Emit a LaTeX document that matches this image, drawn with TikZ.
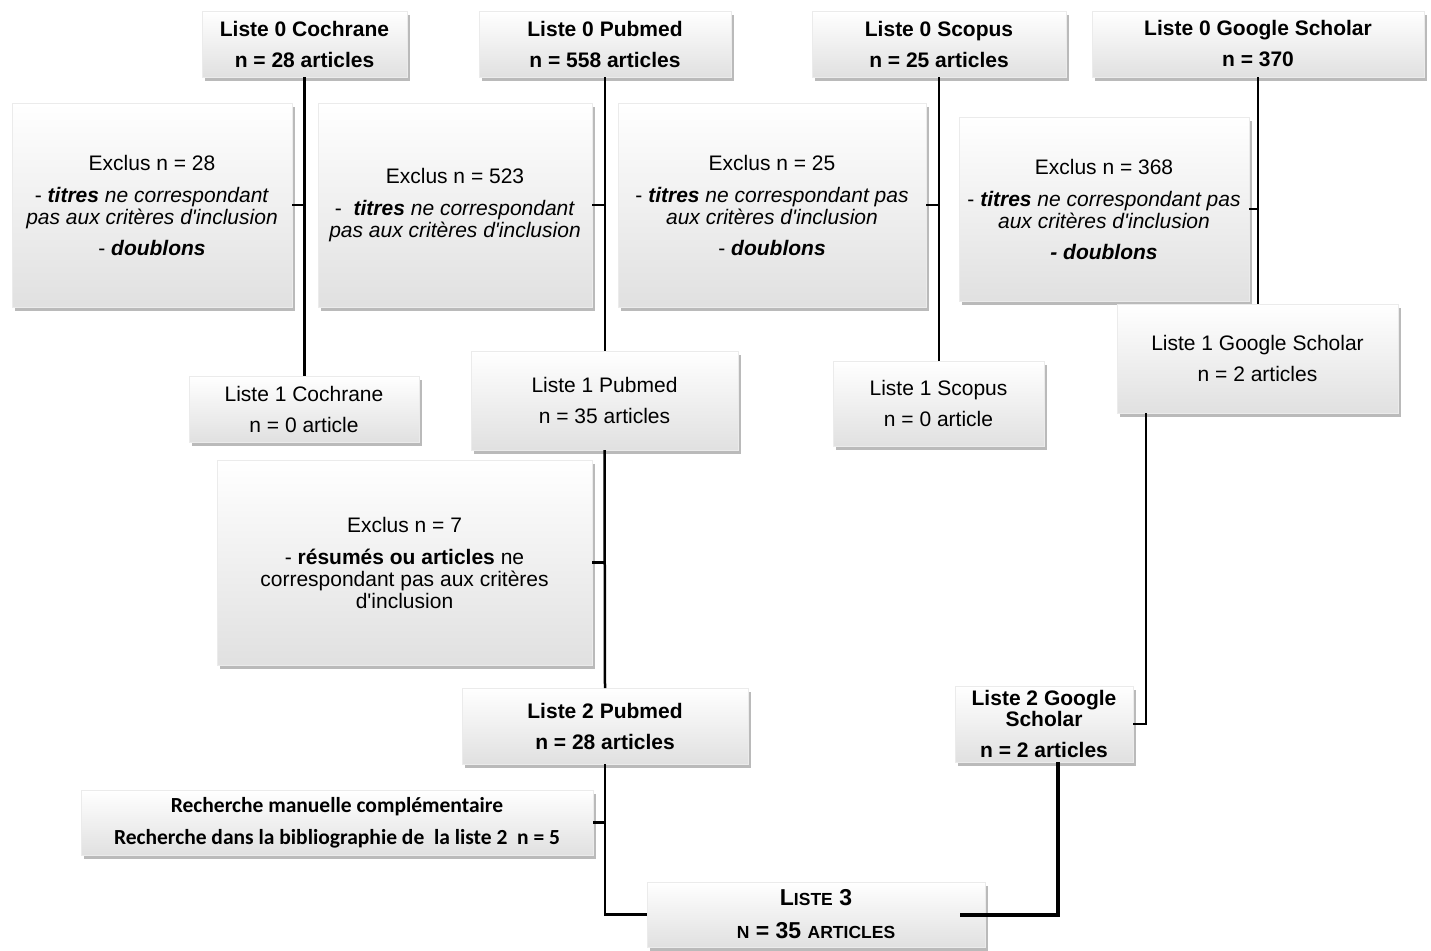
\documentclass[tikz,border=0pt]{standalone}
\usepackage{fontspec}
\setmainfont{Liberation Sans}[Ligatures=TeXOff]
\newfontfamily\calib{Carlito}[Ligatures=TeXOff]
\usetikzlibrary{shadows}
\newcommand\smc[1]{{\fontsize{17.5}{18}\selectfont #1}}
\tikzset{
 box/.style={rectangle, inner sep=0pt, outer sep=0pt, anchor=north west,
   top color=white, bottom color=black!12, draw=black!8, line width=0.5pt,
   drop shadow={shadow xshift=2.5pt, shadow yshift=-4pt, fill=black!60, opacity=0.45},
   align=center, text=black, font=\fontsize{21}{22}\selectfont},
 bbox/.style={box, font=\fontsize{21}{22}\selectfont\bfseries},
 link/.style={line width=2.5pt, draw=black},
 thicklink/.style={line width=4pt, draw=black},
}
\begin{document}
\begin{tikzpicture}[x=1pt,y=-1pt]
\useasboundingbox (0,0) rectangle (1431,950);
% top level
\node[bbox, minimum width=205pt, minimum height=66pt] (C0) at (202,11) {Liste 0 Cochrane\\[9pt]n = 28 articles};
\node[bbox, minimum width=252pt, minimum height=66pt] (P0) at (479,11) {Liste 0 Pubmed\\[9pt]n = 558 articles};
\node[bbox, minimum width=254pt, minimum height=66pt] (S0) at (812,11) {Liste 0 Scopus\\[9pt]n = 25 articles};
\node[bbox, minimum width=332pt, minimum height=66pt] (G0) at (1092,11) {Liste 0 Google Scholar\\[9pt]n = 370};
% connectors (behind later boxes)
\draw[link] (C0.south) -- (C0.south |- 0,376);
\draw[link] (P0.south) -- (P0.south |- 0,351);
\draw[link] (S0.south) -- (S0.south |- 0,361);
\draw[link] (G0.south) -- (G0.south |- 0,304);
% exclusion boxes
\node[box, minimum width=280pt, minimum height=204pt] (E1) at (12,103) {Exclus n = 28\\[10pt]- \textbf{\textit{titres}} \textit{ne correspondant}\\\textit{pas aux critères d'inclusion}\\[9pt]- \textbf{\textit{doublons}}};
\node[box, minimum width=274pt, minimum height=204pt] (E2) at (318,103) {Exclus n = 523\\[10pt]-\ \ \textbf{\textit{titres}} \textit{ne correspondant}\\\textit{pas aux critères d'inclusion}};
\node[box, minimum width=308pt, minimum height=204pt] (E3) at (618,103) {Exclus n = 25\\[10pt]- \textbf{\textit{titres}} \textit{ne correspondant pas}\\\textit{aux critères d'inclusion}\\[9pt]- \textbf{\textit{doublons}}};
\node[box, minimum width=290pt, minimum height=184pt] (E4) at (959,117) {Exclus n = 368\\[10pt]- \textbf{\textit{titres}} \textit{ne correspondant pas}\\\textit{aux critères d'inclusion}\\[9pt]\textbf{\textit{- doublons}}};
\draw[link] (E1.east) -- (E1.east -| C0.south);
\draw[link] (E2.east) -- (E2.east -| P0.south);
\draw[link] (E3.east) -- (E3.east -| S0.south);
\draw[link] (E4.east) -- (E4.east -| G0.south);
% liste 1
\node[box, minimum width=230pt, minimum height=66pt] (L1C) at (189,376) {Liste 1 Cochrane\\[9pt]n = 0 article};
\node[box, minimum width=267pt, minimum height=99pt] (L1P) at (471,351) {Liste 1 Pubmed\\[9pt]n = 35 articles};
\node[box, minimum width=211pt, minimum height=85pt] (L1S) at (833,361) {Liste 1 Scopus\\[9pt]n = 0 article};
\node[box, minimum width=281pt, minimum height=109pt] (L1G) at (1117,304) {Liste 1 Google Scholar\\[9pt]n = 2 articles};
% exclus 7
\node[box, minimum width=375pt, minimum height=205pt] (X7) at (217,460) {Exclus n = 7\\[10pt]- \textbf{résumés ou articles} ne\\correspondant pas aux critères\\d'inclusion};
% liste 2
\node[bbox, minimum width=286pt, minimum height=76pt] (L2P) at (462,688) {Liste 2 Pubmed\\[9pt]n = 28 articles};
\node[bbox, minimum width=178pt, minimum height=76pt] (L2G) at (955,686) {Liste 2 Google\\[-1pt]Scholar\\[9pt]n = 2 articles};
\node[box, minimum width=512pt, minimum height=65pt, font=\calib\bfseries\fontsize{21.5}{21}\selectfont] (R) at (81,790) {Recherche manuelle complémentaire\\[11pt]Recherche dans la bibliographie de\ \ la liste 2\ \ n = 5};
% liste 3
\node[box, minimum width=338pt, minimum height=65pt, font=\fontsize{23}{23}\selectfont\bfseries] (L3) at (647,882) {L\smc{ISTE} 3\\[10pt]\smc{N} = 35 \smc{ARTICLES}};
% remaining connectors
\draw[link] (L1P.south) -- (L2P.north);
\draw[link] (X7.east) -- (X7.east -| L1P.south);
\draw[link] (L2P.south) |- (L3.west);
\draw[link] (R.east) -- (R.east -| L2P.south);
\draw[link] ([xshift=29pt]L1G.south west) |- (L2G.east);
\draw[thicklink] ([xshift=14pt]L2G.south) |- ([xshift=-25pt]L3.east);
\end{tikzpicture}
\end{document}
